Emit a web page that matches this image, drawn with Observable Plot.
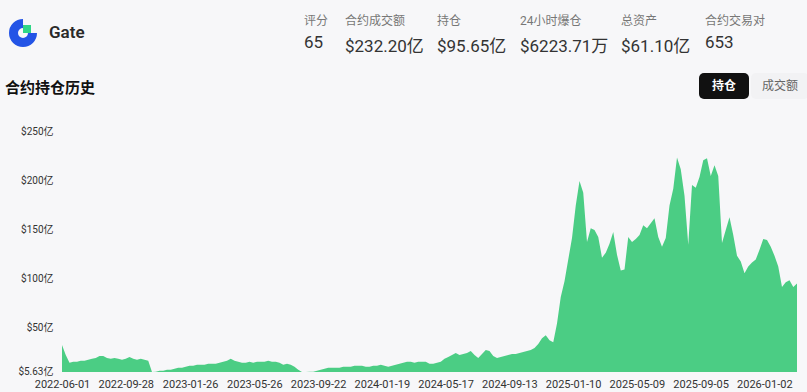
<!DOCTYPE html>
<html>
<head>
<meta charset="utf-8">
<script src="https://cdn.jsdelivr.net/npm/d3@7"></script>
<script src="https://cdn.jsdelivr.net/npm/@observablehq/plot@0.6"></script>
<style>
  html, body { margin: 0; padding: 0; }
  body { width: 807px; height: 392px; background: #f7f7f9; position: relative; overflow: hidden;
         font-family: Roboto, "Noto Sans CJK SC", sans-serif; color: #222; }
  .abs { position: absolute; white-space: nowrap; }
  .lbl { font-size: 12px; color: #777; top: 11px; }
  .val { font-size: 17px; color: #333; top: 32px; }
  #title { left: 5px; top: 76px; font-size: 15px; font-weight: 700; color: #111; }
  #name { left: 49px; top: 22px; font-size: 17px; font-weight: 600; color: #2a2a2a; }
  .btn { top: 73px; height: 26px; line-height: 26px; font-size: 12px; text-align: center; border-radius: 5px; }
  #chart { position: absolute; left: 0; top: 110px; }
</style>
</head>
<body>
<svg class="abs" style="left:7px;top:17px" width="32" height="32" viewBox="0 0 32 32">
  <path d="M16 2 A14 14 0 1 0 30 16 L21 16 A5 5 0 1 1 16 11 Z" fill="#2354e6"/>
  <rect x="16" y="8" width="8" height="8" fill="#2fd687"/>
</svg>
<div id="name" class="abs">Gate</div>
<div id="stats"></div>
<div id="title" class="abs">合约持仓历史</div>
<div class="abs btn" style="left:699px;width:50px;background:#111;color:#fff;font-weight:700;">持仓</div>
<div class="abs btn" style="left:751px;width:58px;color:#666;background:#f2f2f4;">成交额</div>
<div id="chart"></div>
<script>
// Header stats
const statLabels = ["评分", "合约成交额", "持仓", "24小时爆仓", "总资产", "合约交易对"];
const statValues = ["65", "$232.20亿", "$95.65亿", "$6223.71万", "$61.10亿", "653"];
const statLeft = [304, 345, 437, 520, 621, 705];

// Open interest series (亿 USD), one reading per week from 2022-06-01
const startDate = "2022-06-01";
const stepDays = 7;
const oiValues = [
  33, 23, 15, 16, 16, 17, 17, 18, 19, 20,
  22, 22, 20, 19, 20, 19, 18, 19, 21, 19,
  18, 19, 18, 17, 5.7, 5.8, 7, 7, 8, 8,
  9, 10, 10, 11, 12, 12, 13, 13, 13, 14,
  14, 14, 15, 16, 17, 19, 17, 16, 15, 15,
  16, 15, 16, 16, 16, 17, 16, 16, 15, 13,
  14, 13, 11, 8, 5.63, 5.7, 5.8, 6, 7, 8,
  9, 10, 10, 10, 10, 11, 11, 11, 12, 12,
  12, 11, 11, 12, 12, 13, 12, 11, 12, 13,
  14, 15, 16, 16, 15, 16, 16, 16, 14, 14,
  15, 16, 19, 21, 23, 25, 23, 24, 25, 27,
  23, 20, 24, 28, 27, 22, 20, 21, 22, 23,
  24, 24, 25, 26, 27, 28, 30, 34, 40, 43,
  38, 36, 55, 82, 98, 120, 142, 175, 200, 188,
  138, 152, 150, 143, 122, 127, 136, 148, 125, 109,
  110, 143, 138, 141, 145, 155, 152, 157, 162, 143,
  133, 142, 175, 192, 224, 212, 185, 135, 196, 193,
  204, 221, 223, 205, 216, 205, 137, 150, 163, 145,
  124, 118, 106, 113, 117, 120, 130, 141, 140, 133,
  124, 113, 92, 97, 99, 92, 95.65
];
const yTicks = [5.63, 50, 100, 150, 200, 250];
const xTickLabels = ["2022-06-01", "2022-09-28", "2023-01-26", "2023-05-26", "2023-09-22", "2024-01-19",
                     "2024-05-17", "2024-09-13", "2025-01-10", "2025-05-09", "2025-09-05", "2026-01-02"];

const stats = document.getElementById("stats");
statLabels.forEach((l, i) => {
  const a = document.createElement("div");
  a.className = "abs lbl"; a.style.left = statLeft[i] + "px"; a.textContent = l;
  const b = document.createElement("div");
  b.className = "abs val"; b.style.left = statLeft[i] + "px"; b.textContent = statValues[i];
  stats.append(a, b);
});

const parse = d3.utcParse("%Y-%m-%d");
const t0 = parse(startDate);
const data = oiValues.map((v, i) => ({date: d3.utcDay.offset(t0, i * stepDays), value: v}));
const lastDate = data[data.length - 1].date;

const chart = Plot.plot({
  width: 807,
  height: 282,
  marginLeft: 62,
  marginRight: 10,
  marginTop: 12,
  marginBottom: 20,
  style: {background: "transparent", fontFamily: "Roboto, 'Noto Sans CJK SC', sans-serif", color: "#333", overflow: "visible"},
  x: {type: "utc", domain: [t0, lastDate], label: null},
  y: {domain: [5.63, 260], label: null},
  marks: [
    Plot.areaY(data, {x: "date", y1: 5.63, y2: "value", fill: "#4bcd84", curve: "linear"}),
    Plot.axisX(xTickLabels.map(parse), {tickSize: 0, tickPadding: 8, fontSize: 11, tickFormat: d3.utcFormat("%Y-%m-%d"), fill: "#333", label: null}),
    Plot.axisY(yTicks, {tickSize: 0, tickPadding: 9, fontSize: 10, fill: "#333", label: null, dy: -1,
      tickFormat: d => `$${d}亿`})
  ]
});
document.getElementById("chart").append(chart);
</script>
</body>
</html>
